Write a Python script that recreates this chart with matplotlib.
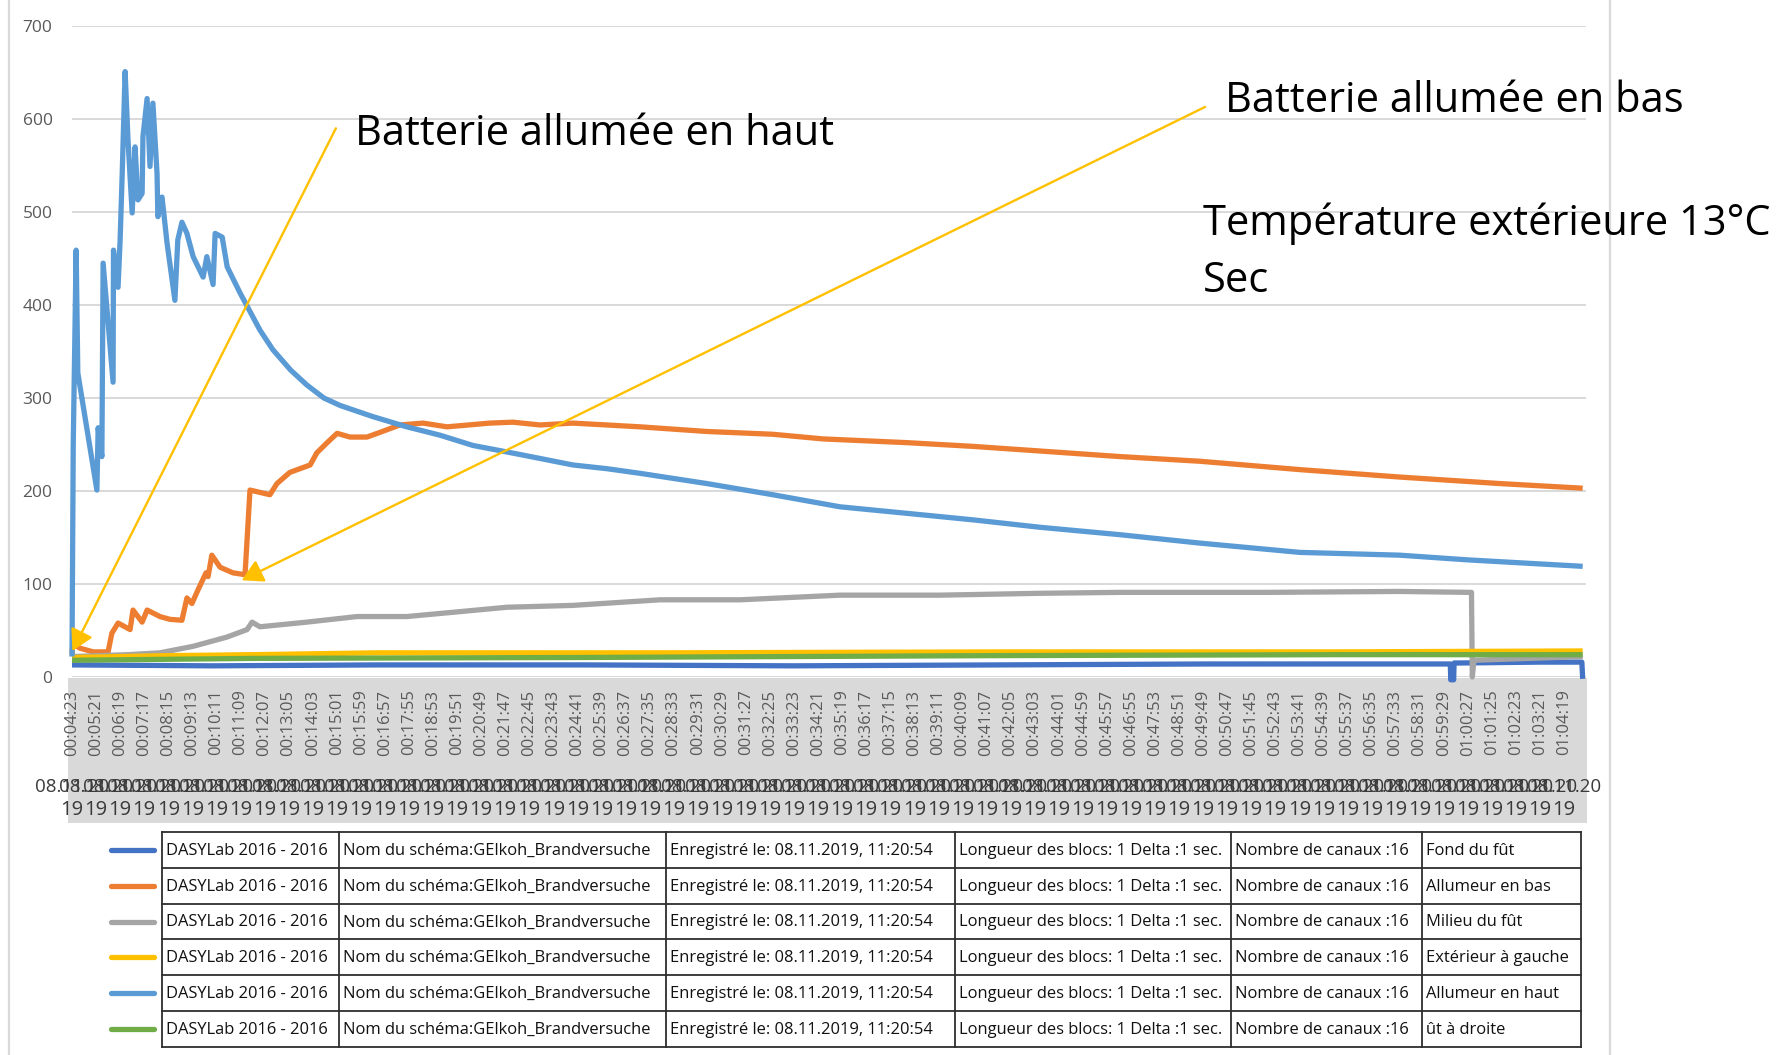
import matplotlib
matplotlib.use("Agg")
import matplotlib.pyplot as plt
from matplotlib import transforms
from matplotlib.patches import Rectangle

plt.rcParams['font.family'] = ['Open Sans', 'DejaVu Sans']

# ---------------- data (time in seconds, temperature in °C) ----------------
fond_t = [263, 600, 1000, 1500, 2000, 2500, 3000, 3400, 3585, 3586, 3593, 3594, 3800, 3902, 3904]
fond_v = [13, 12, 13, 13, 12, 13, 14, 14, 14, -3, -3, 15, 16, 16, -2]

bas_t = [263, 265, 282, 314, 350, 359, 374, 403, 410, 432, 444, 475, 499, 528, 540, 552, 567, 586, 591, 600,
         620, 651, 680, 692, 740, 757, 788, 837, 853, 878, 902, 933, 974, 1005, 1053, 1109, 1167, 1270, 1326, 1391,
         1470, 1552, 1632, 1793, 1952, 2073, 2275, 2434, 2596, 2789, 2981, 3222, 3463, 3704, 3904]
bas_v = [25, 36, 31, 27, 27, 47, 58, 51, 72, 59, 72, 65, 62, 61, 85, 79, 94, 112, 108, 131,
         118, 112, 110, 201, 196, 208, 220, 228, 241, 252, 262, 258, 258, 263, 271, 273, 269, 273, 274, 271,
         273, 271, 269, 264, 261, 256, 252, 248, 243, 237, 232, 223, 215, 208, 203]

milieu_t = [263, 396, 475, 555, 637, 685, 697, 716, 829, 950, 1070, 1191, 1311, 1470, 1680, 1873, 2114, 2355,
            2596, 2789, 3143, 3463, 3632, 3636, 3638, 3642, 3904]
milieu_v = [22, 24, 26, 33, 43, 51, 59, 54, 59, 65, 65, 70, 75, 77, 83, 83, 88, 88,
            90, 91, 91, 92, 91, 91, 0, 18, 22]

gauche_t = [263, 500, 700, 1000, 1700, 2500, 3300, 3904]
gauche_v = [21, 23, 24, 26, 26, 27, 27, 28]

haut_t = [263, 266, 273, 277, 323, 326, 335, 338, 362, 363, 374, 379, 384, 391, 398, 408, 415, 422, 432, 434,
          444, 451, 458, 468, 470, 480, 492, 511, 518, 528, 540, 555, 579, 588, 603, 608, 625, 637, 668, 716,
          747, 790, 829, 870, 909, 988, 1070, 1150, 1229, 1311, 1391, 1470, 1552, 1632, 1793, 1952, 2114, 2275,
          2434, 2596, 2789, 2981, 3222, 3463, 3625, 3784, 3904]
haut_v = [22, 250, 459, 327, 201, 268, 237, 445, 317, 459, 419, 470, 541, 651, 577, 499, 570, 513, 520, 581,
          622, 549, 617, 541, 495, 516, 467, 405, 470, 489, 477, 452, 430, 452, 422, 477, 473, 441, 413, 373,
          352, 330, 314, 300, 292, 280, 269, 260, 249, 242, 235, 228, 224, 219, 208, 196, 183, 176,
          169, 161, 153, 144, 134, 131, 126, 122, 119]

droite_t = [263, 700, 1500, 2500, 3300, 3904]
droite_v = [18, 20, 21, 23, 24, 24]

series_names = ["Fond du fût", "Allumeur en bas", "Milieu du fût", "Extérieur à gauche",
                "Allumeur en haut", "ût à droite"]
series_colors = ["#4472C4", "#ED7D31", "#A5A5A5", "#FFC000", "#5B9BD5", "#70AD47"]
series_t = [fond_t, bas_t, milieu_t, gauche_t, haut_t, droite_t]
series_v = [fond_v, bas_v, milieu_v, gauche_v, haut_v, droite_v]

legend_cols = ["DASYLab 2016 - 2016", "Nom du schéma:GElkoh_Brandversuche",
               "Enregistré le: 08.11.2019, 11:20:54", "Longueur des blocs: 1 Delta :1 sec.",
               "Nombre de canaux :16"]

tick_t = [263 + 58 * k for k in range(63)]
tick_labels = [
    "00:04:23", "00:05:21", "00:06:19", "00:07:17", "00:08:15", "00:09:13", "00:10:11", "00:11:09",
    "00:12:07", "00:13:05", "00:14:03", "00:15:01", "00:15:59", "00:16:57", "00:17:55", "00:18:53",
    "00:19:51", "00:20:49", "00:21:47", "00:22:45", "00:23:43", "00:24:41", "00:25:39", "00:26:37",
    "00:27:35", "00:28:33", "00:29:31", "00:30:29", "00:31:27", "00:32:25", "00:33:23", "00:34:21",
    "00:35:19", "00:36:17", "00:37:15", "00:38:13", "00:39:11", "00:40:09", "00:41:07", "00:42:05",
    "00:43:03", "00:44:01", "00:44:59", "00:45:57", "00:46:55", "00:47:53", "00:48:51", "00:49:49",
    "00:50:47", "00:51:45", "00:52:43", "00:53:41", "00:54:39", "00:55:37", "00:56:35", "00:57:33",
    "00:58:31", "00:59:29", "01:00:27", "01:01:25", "01:02:23", "01:03:21", "01:04:19"]
date_top = "08.11.20"
date_bottom = "19"

y_ticks = [0, 100, 200, 300, 400, 500, 600, 700]

# ---------------- figure ----------------
W, H = 1779, 1055
fig = plt.figure(figsize=(W / 100, H / 100), dpi=100)

# background overlay in pixel coordinates
bg = fig.add_axes([0, 0, 1, 1], zorder=0)
bg.set_xlim(0, W)
bg.set_ylim(H, 0)
bg.axis('off')
bg.plot([9, 9], [0, H], color="#D9D9D9", lw=1.6)
bg.plot([1610, 1610], [0, H], color="#D9D9D9", lw=1.6)
bg.add_patch(Rectangle((68, 678), 1587 - 68, 823 - 678, facecolor="#D9D9D9", edgecolor="none"))

# main axes
ax = fig.add_axes([72 / W, (H - 677) / H, (1586 - 72) / W, 651 / H], zorder=1)
ax.set_facecolor("none")
ax.set_xlim(263, 3912)
ax.set_ylim(0, 700)
for s in ax.spines.values():
    s.set_visible(False)
ax.set_yticks(y_ticks)
ax.set_yticklabels([str(v) for v in y_ticks])
ax.yaxis.grid(True, color="#D9D9D9", lw=1.4)
ax.set_axisbelow(True)
ax.tick_params(axis='y', length=0, pad=14, labelsize=12.5, labelcolor="#595959")
ax.set_xticks(tick_t)
ax.set_xticklabels(tick_labels, rotation=90)
ax.tick_params(axis='x', length=0, pad=9, labelsize=12, labelcolor="#595959")

for t, v, c in zip(series_t, series_v, series_colors):
    ax.plot(t, v, color=c, lw=3.8, solid_joinstyle='round', solid_capstyle='butt', clip_on=False)

# date row of category axis
blend = transforms.blended_transform_factory(ax.transData, bg.transData)
for t in tick_t:
    ax.text(t, 787, date_top, transform=blend, ha='center', va='center', fontsize=13.5,
            color="#3A3A3A", clip_on=False)
    ax.text(t, 810, date_bottom, transform=blend, ha='center', va='center', fontsize=14.5,
            color="#3A3A3A", clip_on=False)

# annotations
arrow_kw = dict(arrowstyle='-|>,head_length=0.8,head_width=0.45', color="#FFC000", lw=1.7,
                mutation_scale=16, shrinkA=0, shrinkB=0)
ax.annotate('', xy=(264, 28), xytext=(899, 590), arrowprops=arrow_kw, annotation_clip=False)
ax.annotate('', xy=(672, 104), xytext=(2994, 613), arrowprops=arrow_kw, annotation_clip=False)

txt_kw = dict(transform=bg.transData, fontsize=30, color="black", va='baseline', ha='left', clip_on=False)
ax.text(355, 145, "Batterie allumée en haut", **txt_kw)
ax.text(1225, 112, "Batterie allumée en bas", **txt_kw)
ax.text(1203, 235, "Température extérieure 13°C", **txt_kw)
ax.text(1203, 292, "Sec", **txt_kw)

# legend table
col_x = [162, 339, 666, 955, 1231, 1422, 1581]
row_top = 832
row_h = 35.8
n_rows = len(series_names)
lc = "#2E2E2E"
for i in range(n_rows + 1):
    y = row_top + i * row_h
    bg.plot([col_x[0], col_x[-1]], [y, y], color=lc, lw=1.3)
for x in col_x:
    bg.plot([x, x], [row_top, row_top + n_rows * row_h], color=lc, lw=1.3)
for i, (name, c) in enumerate(zip(series_names, series_colors)):
    yc = row_top + i * row_h + row_h / 2
    bg.plot([111, 154], [yc, yc], color=c, lw=3.8, solid_capstyle='round')
    cells = legend_cols + [name]
    for j, txt in enumerate(cells):
        bg.text(col_x[j] + 4, yc + 1, txt, ha='left', va='center', fontsize=11.9, color="#111111")

fig.savefig("out.png", dpi=100)
